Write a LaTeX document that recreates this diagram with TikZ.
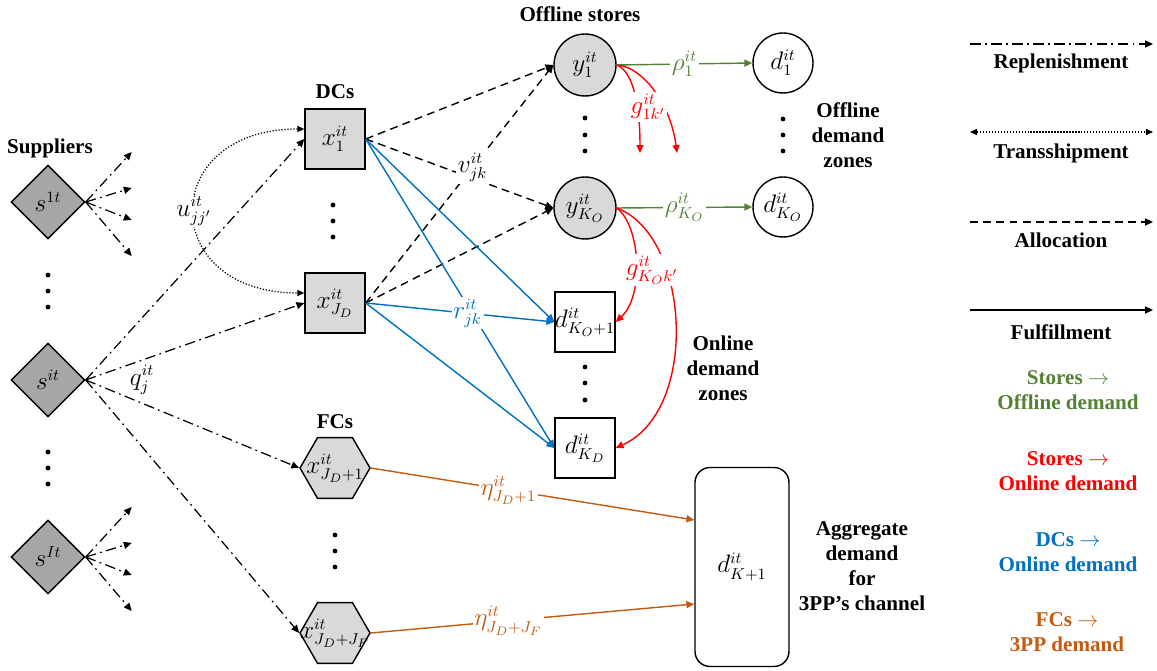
\documentclass[tikz,border=0pt]{standalone}
\usepackage{fontspec}
\setmainfont{Liberation Serif}
\usetikzlibrary{shapes.geometric,arrows.meta,calc}
\definecolor{offgreen}{RGB}{84,130,53}
\definecolor{dcblue}{RGB}{0,112,192}
\definecolor{fcorange}{RGB}{197,90,17}
\definecolor{nodegray}{RGB}{217,217,217}
\definecolor{supgray}{RGB}{166,166,166}

\begin{document}
\begin{tikzpicture}[x=0.02cm,y=-0.02cm,
  every node/.style={font=\fontsize{13.5}{16}\selectfont},
  title/.style={font=\fontsize{12}{14.2}\selectfont\bfseries,align=center},
  supplier/.style={diamond,aspect=1,draw,fill=supgray,minimum width=1.48cm,minimum height=1.48cm,inner sep=0pt,line width=0.8pt},
  dcbox/.style={rectangle,draw,fill=nodegray,minimum size=1.2cm,inner sep=0pt,line width=0.8pt},
  fchex/.style={regular polygon,regular polygon sides=6,draw,fill=nodegray,minimum size=1.4cm,inner sep=0pt,line width=0.8pt},
  store/.style={circle,draw,fill=nodegray,minimum size=1.24cm,inner sep=0pt,line width=0.8pt},
  offzone/.style={circle,draw,minimum size=1.2cm,inner sep=0pt,line width=0.8pt},
  onzone/.style={rectangle,draw,minimum size=1.2cm,inner sep=0pt,line width=0.8pt},
  tip/.style={-{Triangle[length=4.5pt,width=4pt]}},
  repl/.style={tip,line width=0.7pt,dash pattern=on 6pt off 2.5pt on 1pt off 2.5pt},
  trans/.style={{Triangle[length=4pt,width=3.5pt]}-{Triangle[length=4pt,width=3.5pt]},line width=0.7pt,dash pattern=on 0.7pt off 1pt},
  alloc/.style={tip,line width=0.8pt,dash pattern=on 4.5pt off 3pt},
  fulfil/.style={tip,line width=0.8pt},
  lbl/.style={fill=white,inner sep=1pt}
]
\useasboundingbox (0,0) rectangle (1157,671);

\node[title] (suplbl) at (50,148) {Suppliers};
\node[supplier] (s1) at (48,202) {$s^{1t}$};
\node[supplier] (si) at (48,380) {$s^{it}$};
\node[supplier] (sI) at (48,557) {$s^{It}$};
\foreach \y in {275,291,307,452,468,484} \fill (48,\y) circle[radius=1.4pt];

\node[title] (dclbl) at (335,92) {DCs};
\node[dcbox] (x1) at (335,139) {$x^{it}_1$};
\node[dcbox] (xJD) at (335,303) {$x^{it}_{J_D}$};
\foreach \y in {205,221,237} \fill (333,\y) circle[radius=1.4pt];

\node[title] (fclbl) at (335,422) {FCs};
\node[fchex] (f1) at (335,468) {\makebox[0pt]{$x^{it}_{J_D+1}$}};
\node[fchex] (fJF) at (335,633) {\makebox[0pt]{$x^{it}_{J_D+J_F}$}};
\foreach \y in {535,551,567} \fill (335,\y) circle[radius=1.4pt];

\node[title] (stlbl) at (580,14) {Offline stores};
\node[store] (y1) at (585,65) {$y^{it}_1$};
\node[store] (yKO) at (585,208) {$y^{it}_{K_O}$};
\foreach \y in {118,135,151} \fill (585,\y) circle[radius=1.4pt];

\node[offzone] (d1) at (783,63) {$d^{it}_1$};
\node[offzone] (dKO) at (783,207) {$d^{it}_{K_O}$};
\foreach \y in {119,135,151} \fill (783,\y) circle[radius=1.4pt];
\node[title] (offlbl) at (848,135) {Offline\\demand\\zones};

\node[onzone] (dKO1) at (585,322) {\makebox[0pt]{$d^{it}_{K_O+1}$}};
\node[onzone] (dKD) at (585,448) {$d^{it}_{K_D}$};
\foreach \y in {367,383,400} \fill (585,\y) circle[radius=1.4pt];
\node[title] (onlbl) at (723,368) {Online\\demand\\zones};

\node[draw,rounded corners=0.3cm,minimum width=1.88cm,minimum height=3.98cm,line width=0.8pt] (agg) at (742,567) {$d^{it}_{K+1}$};
\node[title] (agglbl) at (862,566) {Aggregate\\demand\\for\\3PP’s channel};
\coordinate (agga) at ($(agg.west)+(0,-47)$);
\coordinate (aggb) at ($(agg.west)+(0,37)$);

\foreach \dy [count=\n] in {-50,-14,18,54} {
  \path (s1.east) ++(46,\dy) coordinate (sa\n);
  \draw[repl] (s1.east) -- (sa\n);
  \path (sI.east) ++(46,\dy) coordinate (sb\n);
  \draw[repl] (sI.east) -- (sb\n);
}
\draw[repl] (si.east) -- (x1.west);
\draw[repl] (si.east) -- (xJD.west);
\draw[repl] (si.east) -- (f1.west);
\draw[repl] (si.east) -- (fJF.west);
\node (qlbl) at (142,380) {$q^{it}_j$};

\draw[trans] ($(x1.west)+(0,-10)$) to[out=180,in=180,looseness=2.3] node[lbl] (ulbl) {$u^{it}_{jj'}$} ($(xJD.west)+(0,-10)$);

\draw[alloc] (x1.east) -- (y1.west);
\draw[alloc] (x1.east) -- (yKO.west);
\draw[alloc] (xJD.east) -- (yKO.west);
\draw[alloc] (xJD.east) -- node[lbl,pos=0.57] (vlbl) {$v^{it}_{jk}$} (y1.west);

\draw[fulfil,dcblue] (x1.east) -- (dKO1.west);
\draw[fulfil,dcblue] (x1.east) -- (dKD.west);
\draw[fulfil,dcblue] (xJD.east) -- (dKD.west);
\draw[fulfil,dcblue] (xJD.east) -- node[lbl,pos=0.54,text=dcblue] (rlbl) {$r^{it}_{jk}$} (dKO1.west);

\draw[fulfil,offgreen] (y1.east) -- node[lbl,text=offgreen] (rho1) {$\rho^{it}_1$} (d1.west);
\draw[fulfil,offgreen] (yKO.east) -- node[lbl,text=offgreen] (rhoKO) {$\rho^{it}_{K_O}$} (dKO.west);

\coordinate (ga) at (640,153);
\coordinate (gb) at (677,153);
\draw[fulfil,red] (y1.east) .. controls (630,70) and (640,95) .. (ga);
\draw[fulfil,red] (y1.east) .. controls (640,66) and (670,100) .. (gb);
\node[lbl,text=red] (g1) at (648,107) {$g^{it}_{1k'}$};
\draw[fulfil,red] (yKO.east) .. controls (640,225) and (645,295) .. (dKO1.east);
\draw[fulfil,red] (yKO.east) .. controls (690,235) and (700,410) .. (dKD.east);
\node[lbl,text=red] (gKO) at (652,270) {$g^{it}_{K_Ok'}$};

\draw[fulfil,fcorange] (f1.east) -- node[lbl,pos=0.425,text=fcorange] (eta1) {$\eta^{it}_{J_D+1}$} (agga);
\draw[fulfil,fcorange] (fJF.east) -- node[lbl,pos=0.425,text=fcorange] (etaJF) {$\eta^{it}_{J_D+J_F}$} (aggb);

\coordinate (lga) at (970,44);   \coordinate (lgb) at (1153,44);
\coordinate (lta) at (970,132);  \coordinate (ltb) at (1153,132);
\coordinate (laa) at (970,222);  \coordinate (lab) at (1153,222);
\coordinate (lfa) at (970,310);  \coordinate (lfb) at (1153,310);
\draw[repl] (lga) -- (lgb);
\draw[trans] (lta) -- (ltb);
\draw[alloc] (laa) -- (lab);
\draw[fulfil] (lfa) -- (lfb);
\node[title] (lgrepl) at (1061,63) {Replenishment};
\node[title] (lgtrans) at (1061,153) {Transshipment};
\node[title] (lgalloc) at (1061,240) {Allocation};
\node[title] (lgfulfil) at (1061,332) {Fulfillment};
\node[title,text=offgreen] (lgso) at (1068,390) {Stores $\rightarrow$\\Offline demand};
\node[title,text=red] (lgson) at (1068,471) {Stores $\rightarrow$\\Online demand};
\node[title,text=dcblue] (lgdc) at (1068,552) {DCs $\rightarrow$\\Online demand};
\node[title,text=fcorange] (lgfc) at (1067,632) {FCs $\rightarrow$\\3PP demand};
\end{tikzpicture}
\end{document}
